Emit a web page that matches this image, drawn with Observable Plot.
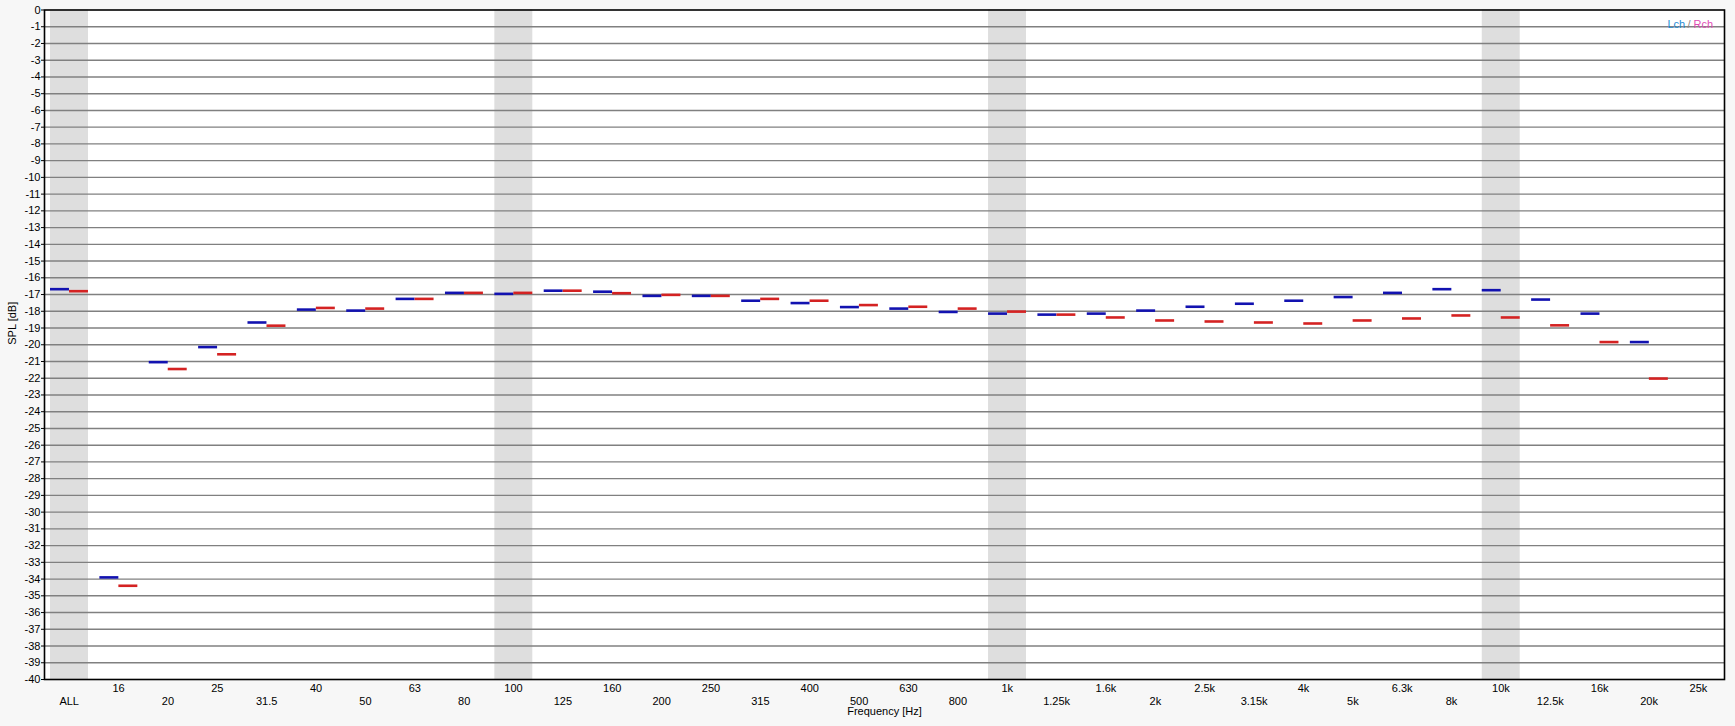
<!DOCTYPE html>
<html>
<head>
<meta charset="utf-8">
<script src="https://cdn.jsdelivr.net/npm/d3@7"></script>
<script src="https://cdn.jsdelivr.net/npm/@observablehq/plot@0.6"></script>
<style>
  html, body { margin: 0; padding: 0; background: #f7f7f7; }
  #chart svg { display: block; }
</style>
</head>
<body>
<div id="chart"></div>
<script>
const categories = ["ALL","16","20","25","31.5","40","50","63","80","100","125","160","200","250","315","400","500","630","800","1k","1.25k","1.6k","2k","2.5k","3.15k","4k","5k","6.3k","8k","10k","12.5k","16k","20k","25k"];
const lch = [-16.68,-33.9,-21.04,-20.14,-18.67,-17.9,-17.96,-17.26,-16.9,-16.96,-16.77,-16.83,-17.08,-17.08,-17.37,-17.51,-17.75,-17.84,-18.04,-18.14,-18.2,-18.14,-17.96,-17.73,-17.55,-17.37,-17.15,-16.9,-16.68,-16.74,-17.3,-18.14,-19.84,null];
const rch = [-16.8,-34.4,-21.45,-20.57,-18.86,-17.8,-17.84,-17.26,-16.9,-16.9,-16.77,-16.92,-17.02,-17.08,-17.26,-17.37,-17.63,-17.73,-17.84,-18.02,-18.2,-18.37,-18.55,-18.61,-18.67,-18.73,-18.55,-18.43,-18.25,-18.37,-18.84,-19.84,-22.02,null];
const shaded = ["ALL","100","1k","10k"];
const yTicks = d3.range(0, -41, -1);
const rowTop = categories.filter((d, i) => i % 2 === 1);
const rowBottom = categories.filter((d, i) => i % 2 === 0);

const lData = categories.map((c, i) => ({cat: c, v: lch[i]})).filter(d => d.v != null);
const rData = categories.map((c, i) => ({cat: c, v: rch[i]})).filter(d => d.v != null);

const font = "'Liberation Sans', Arial, sans-serif";

const chart = Plot.plot({
  width: 1735,
  height: 726,
  marginLeft: 44,
  marginRight: 11,
  marginTop: 9.5,
  marginBottom: 47,
  style: {background: "#f7f7f7", fontFamily: font, fontSize: "11px", color: "black"},
  x: {type: "band", domain: categories, padding: 0, round: false, range: [44, 1722.6], axis: null},
  y: {domain: [-40, 0], axis: null},
  marks: [
    Plot.frame({fill: "white", stroke: "none"}),
    Plot.barY(shaded, {x: d => d, y1: -40, y2: 0, fill: "#dedede", insetLeft: 6, insetRight: 5.4}),
    Plot.ruleY(yTicks.filter(v => v !== 0 && v !== -40), {stroke: "#808080", strokeWidth: 1.4}),
    Plot.tickY(lData, {x: "cat", y: "v", stroke: "#1212b0", strokeWidth: 2.6, insetLeft: 6, insetRight: 24.4}),
    Plot.tickY(rData, {x: "cat", y: "v", stroke: "#d42222", strokeWidth: 2.6, insetLeft: 25, insetRight: 5.4}),
    Plot.frame({stroke: "black", strokeWidth: 1.6}),
    Plot.axisY({ticks: yTicks, tickSize: 3, tickPadding: 1, tickFormat: d => String(d), label: null, fontSize: 11}),
    Plot.axisX({ticks: rowTop, tickSize: 0, tickPadding: 5, label: null, fontSize: 11}),
    Plot.axisX({ticks: rowBottom, tickSize: 0, tickPadding: 18, label: null, fontSize: 11}),
    Plot.text(["SPL [dB]"], {text: d => d, frameAnchor: "left", dx: -32, rotate: -90, fontSize: 11, fill: "black"}),
    Plot.text(["Frequency [Hz]"], {text: d => d, frameAnchor: "bottom", dy: 35, fontSize: 11, fill: "black"}),
    Plot.text(["Lch"], {text: d => d, frameAnchor: "top-right", textAnchor: "start", dx: -57, dy: 10.5, fontSize: 11, fill: "#1e8ad4"}),
    Plot.text(["/"], {text: d => d, frameAnchor: "top-right", textAnchor: "start", dx: -37, dy: 10.5, fontSize: 11, fill: "#888888"}),
    Plot.text(["Rch"], {text: d => d, frameAnchor: "top-right", textAnchor: "start", dx: -31, dy: 10.5, fontSize: 11, fill: "#e04cb4"})
  ]
});
document.getElementById("chart").append(chart);
</script>
</body>
</html>
